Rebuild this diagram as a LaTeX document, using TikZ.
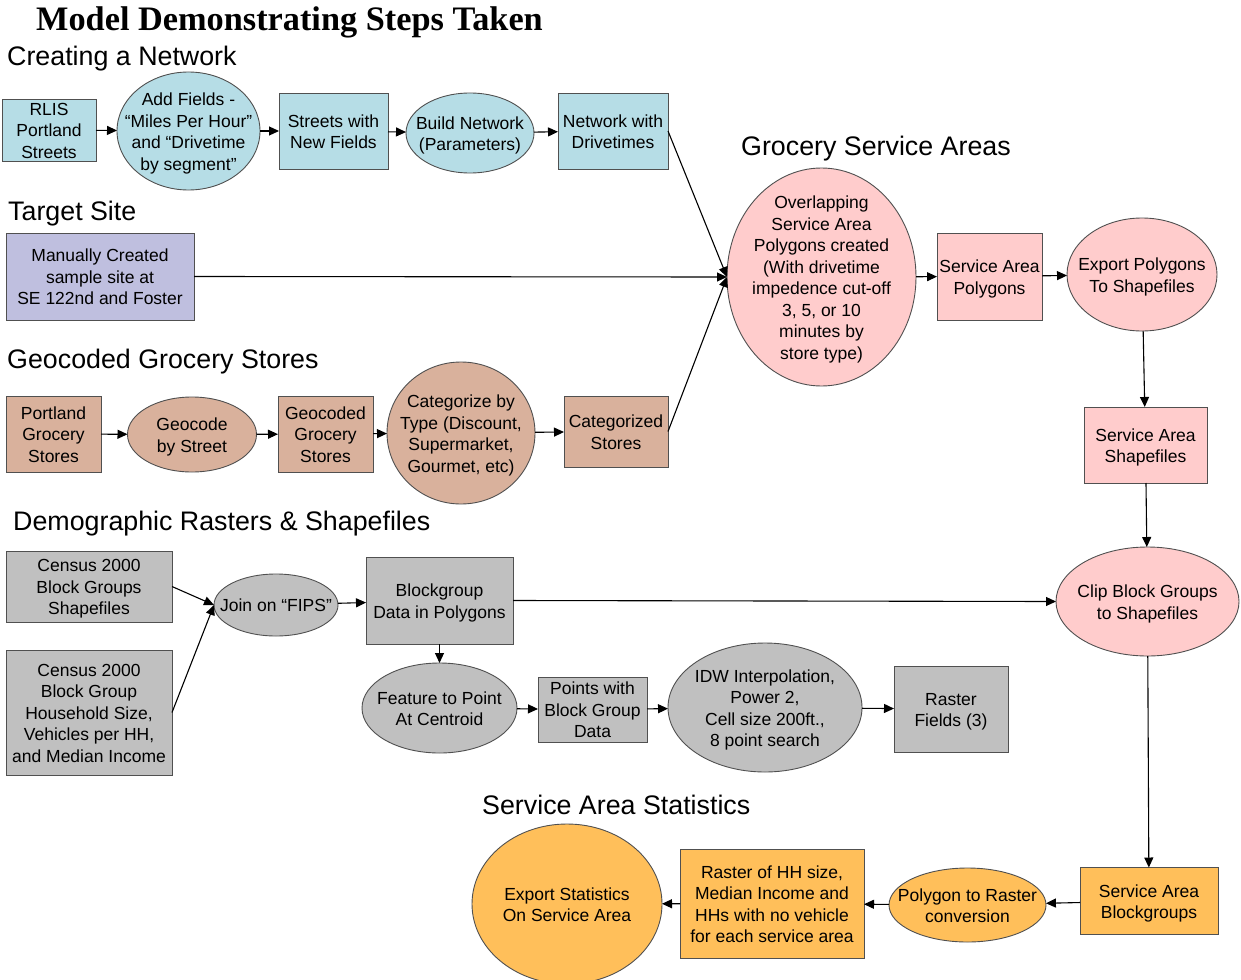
\documentclass[tikz,border=0pt]{standalone}
\usepackage{fontspec}
\setmainfont{Liberation Sans}
\newfontfamily\titlefont{Liberation Serif}
\usetikzlibrary{shapes.geometric,arrows.meta}
\definecolor{cblue}{HTML}{B6DDE6}
\definecolor{clav}{HTML}{BFBFDF}
\definecolor{ctan}{HTML}{D9B19C}
\definecolor{cgray}{HTML}{C0C0C0}
\definecolor{cpink}{HTML}{FFCCCC}
\definecolor{corange}{HTML}{FFBF5A}
\definecolor{cedge}{HTML}{505050}
\newcommand\zt[1]{\makebox[0pt]{\smash{\raisebox{-7pt}{\begin{tabular}[c]{@{}c@{}}#1\end{tabular}}}}}
\tikzset{
 shp/.style={draw=cedge, line width=0.9pt, inner sep=0pt, outer sep=0pt, font=\fontsize{17.5}{21.5}\selectfont},
 bx/.style={shp, rectangle},
 el/.style={shp, ellipse},
 sz/.style 2 args={minimum width=#1, minimum height=#2},
 arr/.style={-{Triangle[length=10pt,width=9pt]}, line width=1.1pt, black},
 hd/.style={anchor=base west, inner sep=0pt, font=\fontsize{26.8}{30}\selectfont},
}
\begin{document}
\begin{tikzpicture}[x=1pt,y=-1pt]
\useasboundingbox[fill=white] (0,0) rectangle (1241,979);
% title and headings
\node[anchor=base west, inner sep=0pt, font=\titlefont\bfseries\fontsize{34.3}{40}\selectfont] (title) at (36,31) {Model Demonstrating Steps Taken};
\node[hd] (h1) at (7,66) {Creating a Network};
\node[hd] (h2) at (8,220) {Target Site};
\node[hd] (h3) at (7,368) {Geocoded Grocery Stores};
\node[hd] (h4) at (13,530) {Demographic Rasters \& Shapefiles};
\node[hd] (h5) at (741,155) {Grocery Service Areas};
\node[hd] (h6) at (482,814) {Service Area Statistics};
% row 1
\node[bx, fill=cblue, sz={94}{62}] (rlis) at (49,130) {\zt{RLIS\\Portland\\Streets}};
\node[el, fill=cblue, sz={143}{118}] (addf) at (188.5,131) {\zt{Add Fields -\\“Miles Per Hour”\\and “Drivetime\\by segment”}};
\node[bx, fill=cblue, sz={109}{76}] (strts) at (333.5,131) {\zt{Streets with\\New Fields}};
\node[el, fill=cblue, sz={128}{80}] (build) at (470,133) {\zt{Build Network\\(Parameters)}};
\node[bx, fill=cblue, sz={110}{76}] (netw) at (613,131) {\zt{Network with\\Drivetimes}};
% target
\node[bx, fill=clav, sz={188}{87}] (target) at (100,276.5) {\zt{Manually Created\\sample site at\\SE 122nd and Foster}};
% grocery
\node[bx, fill=ctan, sz={95}{76}] (pgs) at (53.5,434) {\zt{Portland\\Grocery\\Stores}};
\node[el, fill=ctan, sz={129}{75}] (geoc) at (192,434.5) {\zt{Geocode\\by Street}};
\node[bx, fill=ctan, sz={95}{76}] (gcs) at (325.5,434) {\zt{Geocoded\\Grocery\\Stores}};
\node[el, fill=ctan, sz={148}{142}] (catg) at (461,433) {\zt{Categorize by\\Type (Discount,\\Supermarket,\\Gourmet, etc)}};
\node[bx, fill=ctan, sz={104}{71}] (cats) at (616,431.5) {\zt{Categorized\\Stores}};
% service areas
\node[el, fill=cpink, sz={189}{218}] (big) at (821.5,277) {\zt{Overlapping\\Service Area\\Polygons created\\(With drivetime\\impedence cut-off\\3, 5, or 10\\minutes by\\store type)}};
\node[bx, fill=cpink, sz={105}{87}] (sap) at (989.5,276.5) {\zt{Service Area\\Polygons}};
\node[el, fill=cpink, sz={150}{113}] (expp) at (1142,274.5) {\zt{Export Polygons\\To Shapefiles}};
\node[bx, fill=cpink, sz={123}{76}] (sas) at (1145.5,445) {\zt{Service Area\\Shapefiles}};
\node[el, fill=cpink, sz={183}{109}] (clip) at (1147.5,601.5) {\zt{Clip Block Groups\\to Shapefiles}};
% demographic
\node[bx, fill=cgray, sz={166}{71}] (cen1) at (89,586.5) {\zt{Census 2000\\Block Groups\\Shapefiles}};
\node[bx, fill=cgray, sz={166}{125}] (cen2) at (89,712.5) {\zt{Census 2000\\Block Group\\Household Size,\\Vehicles per HH,\\and Median Income}};
\node[el, fill=cgray, sz={124}{62}] (join) at (276,605) {\zt{Join on “FIPS”}};
\node[bx, fill=cgray, sz={147}{87}] (blkg) at (439.5,600.5) {\zt{Blockgroup\\Data in Polygons}};
\node[el, fill=cgray, sz={155}{90}] (feat) at (439.5,708) {\zt{Feature to Point\\At Centroid}};
\node[bx, fill=cgray, sz={109}{65}] (pts) at (592.5,709.5) {\zt{Points with\\Block Group\\Data}};
\node[el, fill=cgray, sz={194}{129}] (idw) at (765,707.5) {\zt{IDW Interpolation,\\Power 2,\\Cell size 200ft.,\\8 point search}};
\node[bx, fill=cgray, sz={114}{86}] (rast) at (951,709) {\zt{Raster\\Fields (3)}};
% statistics
\node[bx, fill=corange, sz={138}{67}] (sab) at (1149,901) {\zt{Service Area\\Blockgroups}};
\node[el, fill=corange, sz={157}{74}] (p2r) at (967.5,905) {\zt{Polygon to Raster\\conversion}};
\node[bx, fill=corange, sz={184}{109}] (rhh) at (772,903.5) {\zt{Raster of HH size,\\Median Income and\\HHs with no vehicle\\for each service area}};
\node[el, fill=corange, sz={190}{160}] (exps) at (567,904) {\zt{Export Statistics\\On Service Area}};
% connectors
\draw[arr] (rlis) -- (addf);
\draw[arr] (addf) -- (strts);
\draw[arr] (strts) -- (build);
\draw[arr] (build) -- (netw);
\draw[arr] (netw.east) -- (big.west);
\draw[arr] (target.east) -- (big.west);
\draw[arr] (cats.east) -- (big.west);
\draw[arr] (pgs) -- (geoc);
\draw[arr] (geoc) -- (gcs);
\draw[arr] (gcs) -- (catg);
\draw[arr] (catg) -- (cats);
\draw[arr] (big) -- (sap);
\draw[arr] (sap) -- (expp);
\draw[arr] (expp) -- (sas);
\draw[arr] (sas) -- (clip);
\draw[arr] (cen1.east) -- (join.west);
\draw[arr] (cen2.east) -- (join.west);
\draw[arr] (join) -- (blkg);
\draw[arr] (blkg) -- (feat);
\draw[arr] (feat) -- (pts);
\draw[arr] (pts) -- (idw);
\draw[arr] (idw) -- (rast);
\draw[arr] (blkg.east) -- (clip.west);
\draw[arr] (clip) -- (sab);
\draw[arr] (sab) -- (p2r);
\draw[arr] (p2r) -- (rhh);
\draw[arr] (rhh) -- (exps);
\end{tikzpicture}
\end{document}
